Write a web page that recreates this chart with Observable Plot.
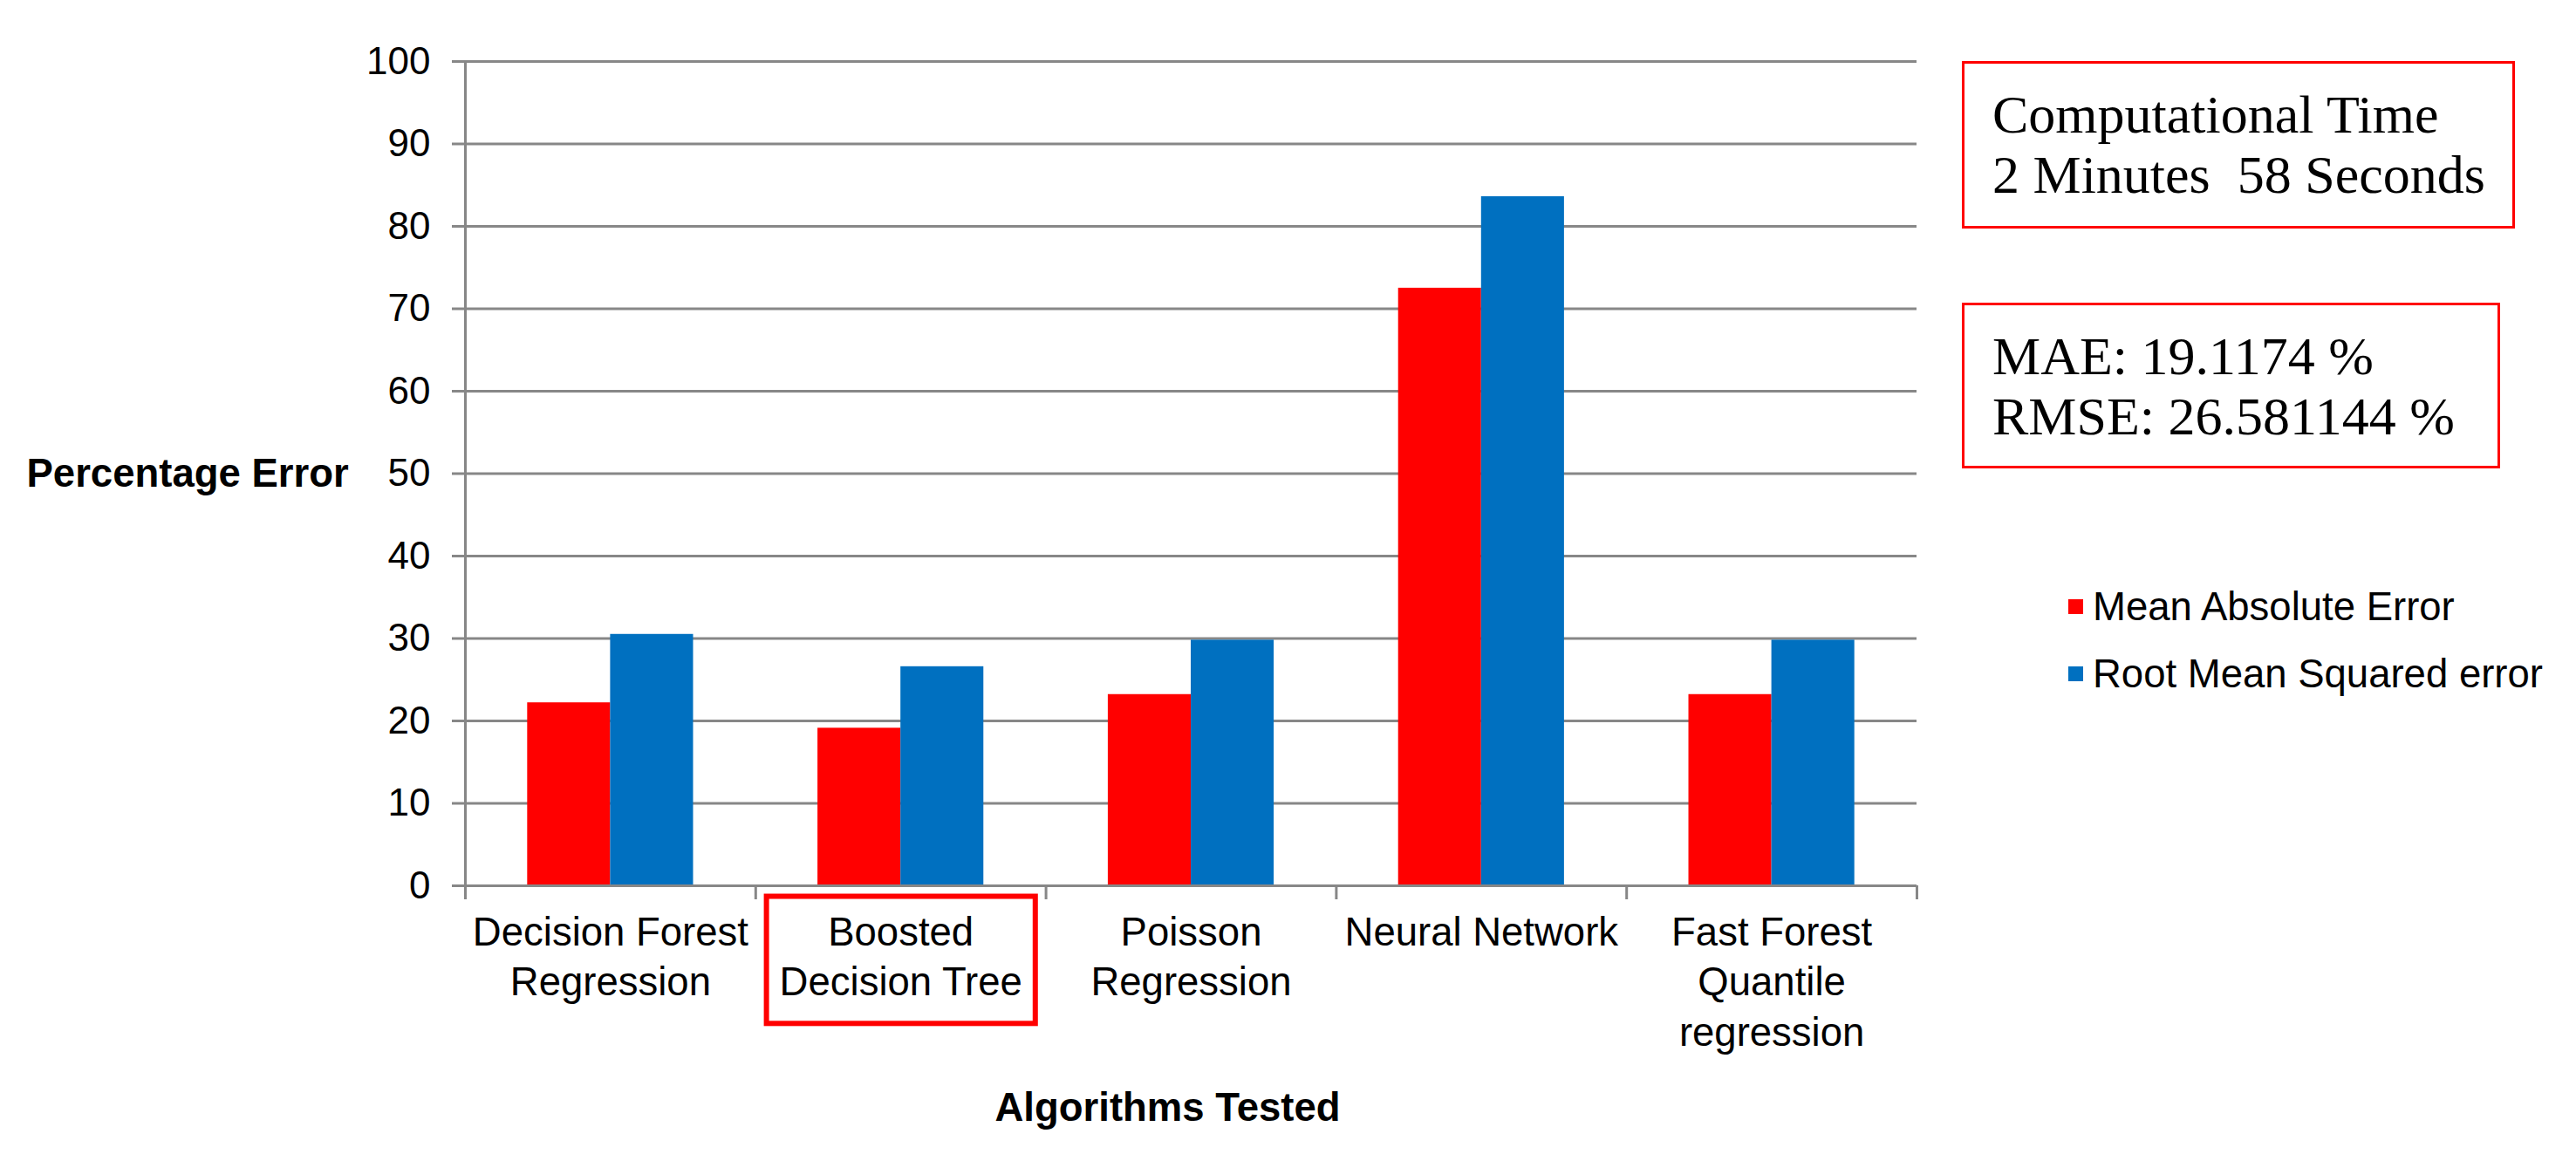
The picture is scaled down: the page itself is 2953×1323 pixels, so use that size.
<!DOCTYPE html>
<html>
<head>
<meta charset="utf-8">
<script src="https://cdn.jsdelivr.net/npm/d3@7"></script>
<script src="https://cdn.jsdelivr.net/npm/@observablehq/plot@0.6"></script>
<style>
html, body { margin: 0; padding: 0; background: #fff; }
#wrap { position: relative; width: 2953px; height: 1323px; overflow: hidden; background: #fff; }
.box { position: absolute; box-sizing: border-box; border: 3px solid #ff0000; background: #fff;
  font-family: "Liberation Serif", "Times New Roman", serif; font-size: 62px; line-height: 69px;
  color: #000; padding: 24px 0 0 32px; white-space: pre; }
.legend { position: absolute; font-family: "Liberation Sans", Arial, sans-serif; font-size: 45.5px; color: #000; }
.legend .row { display: flex; align-items: center; height: 77px; white-space: nowrap; }
.legend .sw { width: 17px; height: 17px; margin-right: 11px; flex: none; }
</style>
</head>
<body>
<div id="wrap"></div>
<script>
// ---- data ----
const categories = [
  "Decision Forest\nRegression",
  "Boosted\nDecision Tree",
  "Poisson\nRegression",
  "Neural Network",
  "Fast Forest\nQuantile\nregression"
];
const series = ["Mean Absolute Error", "Root Mean Squared error"];
const maeValues = [22.2, 19.12, 23.2, 72.5, 23.2];
const rmseValues = [30.5, 26.58, 29.8, 83.6, 29.8];
const seriesColors = ["#ff0000", "#0070c0"];
const yTicks = [0, 10, 20, 30, 40, 50, 60, 70, 80, 90, 100];
const highlightedCategory = "Boosted\nDecision Tree";
const yTitle = "Percentage Error";
const xTitle = "Algorithms Tested";
const timeBoxLines = ["Computational Time", "2 Minutes  58 Seconds"];
const errorBoxLines = ["MAE: 19.1174 %", "RMSE: 26.581144 %"];

// ---- table built from the arrays ----
const valuesBySeries = [maeValues, rmseValues];
const rows = categories.flatMap((cat, i) =>
  series.map((s, j) => ({cat, i, j, series: s, value: valuesBySeries[j][i]}))
);

// Excel-like grouping: gap width 150% of a bar
const gapWidth = 1.5;
const slots = series.length + gapWidth;

const W = 2953, H = 1323;
const ML = 533, MR = 756, MT = 70, MB = 308;
const gridColor = "#878787";

const plot = Plot.plot({
  width: W, height: H,
  marginLeft: ML, marginRight: MR, marginTop: MT, marginBottom: MB,
  style: {fontFamily: '"Liberation Sans", Arial, sans-serif', fontSize: "45.5px", color: "#000", background: "#fff", overflow: "visible"},
  x: {domain: [0, categories.length], axis: null},
  y: {domain: [0, 100], axis: null},
  color: {domain: series, range: seriesColors},
  marks: [
    Plot.gridY(yTicks, {stroke: gridColor, strokeOpacity: 1, strokeWidth: 3}),
    Plot.rect(rows, {
      x1: d => d.i + (gapWidth / 2 + d.j) / slots,
      x2: d => d.i + (gapWidth / 2 + d.j + 1) / slots,
      y1: 0, y2: "value", fill: "series"
    }),
    Plot.ruleX([0], {y1: 0, y2: 100, stroke: gridColor, strokeWidth: 3}),
    Plot.ruleY([0], {stroke: gridColor, strokeWidth: 3}),
    Plot.axisY({ticks: yTicks, tickSize: 15, tickPadding: 25, stroke: gridColor, strokeWidth: 3, label: null, tickFormat: d => String(d), fontSize: 44}),
    Plot.axisX({ticks: d3.range(categories.length + 1), tickSize: 16, tickFormat: () => "", stroke: gridColor, strokeWidth: 3, label: null}),
    Plot.axisX({ticks: categories.map((c, i) => i + 0.5), tickSize: 0, tickPadding: 27, lineHeight: 1.27,
      tickFormat: d => categories[Math.floor(d)], label: null}),
    Plot.text([yTitle], {frameAnchor: "left", dx: -(ML - 30), textAnchor: "start", fontWeight: "bold"}),
    Plot.text([xTitle], {frameAnchor: "bottom", dy: 269, dx: -27, fontWeight: "bold"})
  ]
});

const wrap = document.getElementById("wrap");
wrap.appendChild(plot);

// red highlight box around the highlighted category label
const svgRect = plot.getBoundingClientRect();
const labelNode = Array.from(plot.querySelectorAll("text"))
  .find(t => t.textContent.replace(/\s/g, "") === highlightedCategory.replace(/\s/g, ""));
if (labelNode) {
  const b = labelNode.getBoundingClientRect();
  const r = document.createElementNS("http://www.w3.org/2000/svg", "rect");
  r.setAttribute("x", b.left - svgRect.left - 15);
  r.setAttribute("y", b.top - svgRect.top - 15);
  r.setAttribute("width", b.width + 30);
  r.setAttribute("height", b.height + 37);
  r.setAttribute("fill", "none");
  r.setAttribute("stroke", "#ff0000");
  r.setAttribute("stroke-width", 6);
  plot.appendChild(r);
}

// legend
const legend = document.createElement("div");
legend.className = "legend";
legend.style.left = "2371px";
legend.style.top = "657px";
series.forEach((s, j) => {
  const row = document.createElement("div");
  row.className = "row";
  const sw = document.createElement("span");
  sw.className = "sw";
  sw.style.background = seriesColors[j];
  const tx = document.createElement("span");
  tx.textContent = s;
  row.appendChild(sw); row.appendChild(tx);
  legend.appendChild(row);
});
wrap.appendChild(legend);

// annotation boxes
function addBox(lines, left, top, width, height) {
  const d = document.createElement("div");
  d.className = "box";
  d.style.left = left + "px"; d.style.top = top + "px";
  d.style.width = width + "px"; d.style.height = height + "px";
  d.textContent = lines.join("\n");
  wrap.appendChild(d);
}
addBox(timeBoxLines, 2249, 70, 634, 192);
addBox(errorBoxLines, 2249, 347, 617, 190);
</script>
</body>
</html>
